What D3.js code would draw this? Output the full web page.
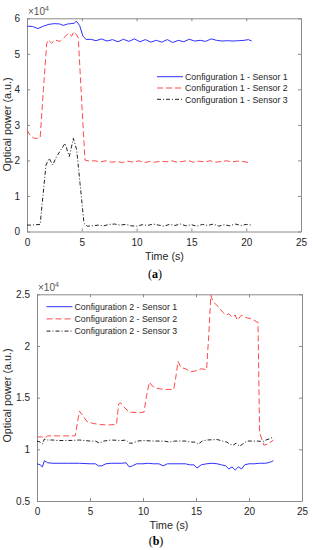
<!DOCTYPE html>
<html><head><meta charset="utf-8">
<script src="https://cdn.jsdelivr.net/npm/d3@7"></script>
<style>body{margin:0;background:#fff}svg{display:block}text{font-family:"Liberation Sans",Arial,sans-serif}</style>
</head><body><svg id="c" width="312" height="550"></svg>
<script>
// ---------- DATA (values in units of 1e4) ----------
const xTicks = [0, 5, 10, 15, 20, 25];
const yTicksA = [0, 1, 2, 3, 4, 5, 6];
const yTicksB = [0.5, 1, 1.5, 2, 2.5];
const yTickLabelsB = ["0.5", "1", "1.5", "2", "2.5"];
const legendA = ["Configuration 1 - Sensor 1", "Configuration 1 - Sensor 2", "Configuration 1 - Sensor 3"];
const legendB = ["Configuration 2 - Sensor 1", "Configuration 2 - Sensor 2", "Configuration 2 - Sensor 3"];

const tA1 = [0,0.5,1.0,1.5,2.0,2.5,3.0,3.3,3.7,4.0,4.3,4.5,4.8,5.1,5.4,5.8,6.3,6.8,7.3,7.8,8.3,8.8,9.3,9.8,10.3,10.8,11.3,11.8,12.3,12.8,13.3,13.8,14.3,14.8,15.3,15.8,16.3,16.8,17.3,17.8,18.3,18.8,19.3,19.8,20.2,20.5];
const vA1 = [5.78,5.77,5.71,5.78,5.83,5.85,5.84,5.80,5.84,5.85,5.86,5.92,5.80,5.50,5.40,5.41,5.37,5.42,5.36,5.40,5.34,5.41,5.35,5.42,5.34,5.40,5.33,5.38,5.33,5.40,5.32,5.38,5.34,5.41,5.36,5.38,5.35,5.42,5.38,5.36,5.37,5.36,5.37,5.38,5.40,5.36];
const tA2 = [0,0.3,0.6,0.9,1.2,1.5,1.8,1.95,2.25,2.55,3.0,3.47,3.77,4.08,4.29,4.53,4.68,5.0,5.29,5.7,6.2,6.7,7.2,7.7,8.2,8.7,9.2,9.7,10.2,10.7,11.2,11.7,12.2,12.7,13.2,13.7,14.2,14.7,15.2,15.7,16.2,16.7,17.2,17.7,18.2,18.7,19.2,19.7,20.4];
const vA2 = [2.86,2.70,2.63,2.62,2.64,4.0,5.30,5.39,5.30,5.39,5.35,5.48,5.58,5.50,5.62,5.53,5.45,3.6,2.01,1.98,1.99,1.96,1.99,1.95,1.97,1.94,1.98,1.95,1.99,1.94,1.97,1.95,1.98,1.96,1.99,1.95,1.97,2.00,1.95,1.98,1.96,1.99,1.95,1.97,1.99,1.96,1.98,1.97,1.93];
const tA3 = [0,0.4,0.8,1.2,1.73,2.03,2.34,2.7,3.1,3.47,3.86,4.23,4.53,4.84,5.2,5.5,6.0,6.5,7.0,7.5,8.0,8.5,9.0,9.5,10.0,10.5,11.0,11.5,12.0,12.5,13.0,13.5,14.0,14.5,15.0,15.5,16.0,16.5,17.0,17.5,18.0,18.5,19.0,19.5,20.0,20.5];
const vA3 = [0.18,0.18,0.19,0.20,1.87,2.06,1.87,2.11,2.30,2.48,2.11,2.62,2.30,1.35,0.23,0.15,0.16,0.18,0.16,0.20,0.21,0.18,0.20,0.16,0.15,0.19,0.17,0.21,0.18,0.15,0.20,0.17,0.21,0.16,0.19,0.15,0.20,0.17,0.21,0.15,0.19,0.16,0.21,0.17,0.20,0.18];

const tB1 = [0,0.3,0.5,0.7,1.0,1.5,2,3,4,5,5.5,5.8,6.1,6.5,7,8,8.4,8.7,9.0,9.4,10,10.5,11,11.5,11.9,12.3,13,14,14.4,14.8,15.1,15.5,16,16.5,17,17.4,17.8,18.1,18.4,18.7,19.0,19.3,19.6,20,20.5,21,21.5,21.8,22.1,22.3];
const vB1 = [0.86,0.85,0.83,0.89,0.87,0.865,0.865,0.865,0.865,0.86,0.86,0.84,0.84,0.86,0.865,0.865,0.87,0.83,0.84,0.86,0.86,0.865,0.86,0.86,0.84,0.86,0.86,0.86,0.85,0.85,0.82,0.85,0.86,0.865,0.86,0.85,0.84,0.81,0.83,0.80,0.83,0.81,0.85,0.86,0.86,0.865,0.865,0.87,0.88,0.89];
const tB2 = [0,0.5,0.7,1,2,3,3.6,3.8,4.0,4.3,4.7,5.3,6,6.7,7.3,7.5,7.7,7.9,8.2,8.7,9.5,10.1,10.3,10.6,10.9,11.3,12,12.9,13.1,13.3,13.6,14,14.5,15,15.5,16.0,16.2,16.4,16.6,17.1,17.5,17.8,18.1,18.4,18.7,18.9,19.3,19.6,19.9,20.3,20.7,20.85,21.0,21.2,21.4,21.8,22.3];
const vB2 = [1.12,1.12,1.11,1.13,1.13,1.13,1.13,1.25,1.37,1.33,1.27,1.25,1.24,1.235,1.24,1.24,1.44,1.45,1.41,1.36,1.355,1.36,1.50,1.65,1.61,1.59,1.58,1.58,1.70,1.85,1.79,1.78,1.75,1.76,1.78,1.77,2.10,2.49,2.43,2.38,2.33,2.30,2.31,2.28,2.30,2.25,2.30,2.28,2.27,2.26,2.235,2.23,1.16,1.10,1.04,1.05,1.09];
const tB3 = [0,0.3,0.5,0.7,1,1.5,2,3,4,5,5.5,5.9,6.3,7,8,8.4,8.7,9.0,9.5,10,11,12,12.5,13,14,14.5,14.9,15.2,15.6,16,17,17.5,17.9,18.2,18.5,18.8,19.1,19.4,19.8,20.2,20.8,21.3,21.6,21.9,22.3];
const vB3 = [1.08,1.07,1.05,1.10,1.09,1.09,1.085,1.085,1.09,1.08,1.08,1.06,1.08,1.09,1.085,1.09,1.06,1.06,1.08,1.085,1.08,1.08,1.07,1.08,1.08,1.07,1.07,1.05,1.08,1.09,1.095,1.08,1.07,1.05,1.04,1.06,1.03,1.05,1.08,1.08,1.08,1.075,1.09,1.10,1.12];

// ---------- DRAW ----------
const svg = d3.select("#c");
svg.append("rect").attr("width",312).attr("height",550).attr("fill","#fff");
const AX = "#8a8a8a", TXT = "#262626";
const styles = [
  {stroke:"#3030ff", dash:null},
  {stroke:"#ff4a4a", dash:"6,3"},
  {stroke:"#222", dash:"4,2,1,2"}
];

function chart(o){
  const x = d3.scaleLinear().domain([0,25]).range([o.L,o.R]);
  const y = d3.scaleLinear().domain(o.yDom).range([o.B,o.T]);
  const g = svg.append("g");
  const fmtY = (d,i)=>o.yLabels ? o.yLabels[i] : String(d);
  // axes (inward ticks, mirrored)
  const ab = g.append("g").attr("transform",`translate(0,${o.B})`)
    .call(d3.axisBottom(x).tickValues(xTicks).tickSizeInner(-3).tickSizeOuter(0).tickPadding(7));
  const at = g.append("g").attr("transform",`translate(0,${o.T})`)
    .call(d3.axisTop(x).tickValues(xTicks).tickSizeInner(-3).tickSizeOuter(0).tickFormat(""));
  const al = g.append("g").attr("transform",`translate(${o.L},0)`)
    .call(d3.axisLeft(y).tickValues(o.yTicks).tickSizeInner(-3).tickSizeOuter(0).tickPadding(7).tickFormat(fmtY));
  const ar = g.append("g").attr("transform",`translate(${o.R},0)`)
    .call(d3.axisRight(y).tickValues(o.yTicks).tickSizeInner(-3).tickSizeOuter(0).tickFormat(""));
  [ab,at,al,ar].forEach(a=>{
    a.selectAll("path").attr("stroke",AX).attr("stroke-width",1);
    a.selectAll("line").attr("stroke",AX);
    a.selectAll("text").attr("fill",TXT).style("font-size","10px").style("font-family","'Liberation Sans',Arial,sans-serif");
  });
  // lines
  const line = d3.line().x(d=>x(d[0])).y(d=>y(d[1]));
  o.series.forEach((s,i)=>{
    const pts = s.t.map((t,j)=>[t,s.v[j]]);
    g.append("path").datum(pts).attr("d",line).attr("fill","none")
      .attr("stroke",styles[i].stroke).attr("stroke-width",1)
      .attr("stroke-dasharray",styles[i].dash);
  });
  // exponent
  const ex = g.append("text").attr("x",o.L+1).attr("y",o.T-3).attr("fill","#555").style("font-size","10px");
  ex.append("tspan").text("\u00d710");
  ex.append("tspan").attr("dy",-4).style("font-size","7px").text("4");
  // legend
  o.legend.forEach((lab,i)=>{
    const yy = o.legY + i*o.legDy;
    g.append("line").attr("x1",o.legX).attr("x2",o.legX+26).attr("y1",yy).attr("y2",yy)
      .attr("stroke",styles[i].stroke).attr("stroke-width",1).attr("stroke-dasharray",styles[i].dash);
    g.append("text").attr("x",o.legX+28).attr("y",yy+3.2).attr("fill",TXT).style("font-size","8.8px").text(lab);
  });
  // axis titles
  g.append("text").attr("x",o.xtX).attr("y",o.xtY).attr("text-anchor","middle").attr("fill",TXT)
    .style("font-size","10.7px").text("Time (s)");
  g.append("text").attr("transform",`translate(${o.ytX},${o.ytY}) rotate(-90)`).attr("text-anchor","middle")
    .attr("fill",TXT).style("font-size","10.8px").text("Optical power (a.u.)");
  const pl = g.append("text").attr("x",o.pX).attr("y",o.pY).attr("text-anchor","middle").attr("fill","#000")
    .style("font-family","'Liberation Serif','Times New Roman',serif").style("font-size","12px");
  pl.append("tspan").text("(");
  pl.append("tspan").attr("font-weight","bold").text(o.panel);
  pl.append("tspan").text(")");
}

chart({L:27,R:301,T:18.3,B:231.5,yDom:[0,6],yTicks:yTicksA,
  series:[{t:tA1,v:vA1},{t:tA2,v:vA2},{t:tA3,v:vA3}],
  legend:legendA,legX:157,legY:76.7,legDy:11.3,
  xtX:164.5,xtY:260,ytX:11,ytY:124.5,pX:155,pY:278,panel:"a"});

chart({L:37,R:302,T:294.3,B:501,yDom:[0.5,2.5],yTicks:yTicksB,yLabels:yTickLabelsB,
  series:[{t:tB1,v:vB1},{t:tB2,v:vB2},{t:tB3,v:vB3}],
  legend:legendB,legX:46.5,legY:306.7,legDy:12.2,
  xtX:169,xtY:529,ytX:11,ytY:395.5,pX:156,pY:545,panel:"b"});
</script></body></html>
